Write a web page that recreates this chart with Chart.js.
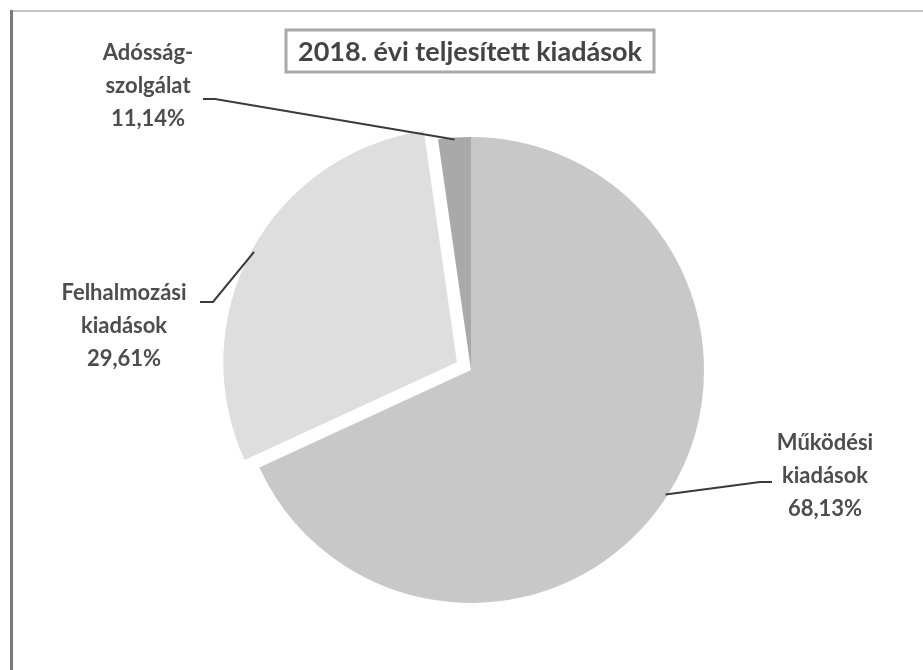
<!DOCTYPE html>
<html>
<head>
<meta charset="utf-8">
<script src="https://cdn.jsdelivr.net/npm/chart.js@4/dist/chart.umd.min.js"></script>
<style>
html, body { margin: 0; padding: 0; background: #fff; }
</style>
</head>
<body>
<canvas id="grafica" width="923" height="670"></canvas>
<script>
// adatok
var cim = "2018. évi teljesített kiadások";
var kategoriak = ["Működési kiadások", "Felhalmozási kiadások", "Adósságszolgálat"];
var ertekek = [68.13, 29.61, 2.26];
var cimkeSorok = [
    ["Működési", "kiadások", "68,13%"],
    ["Felhalmozási", "kiadások", "29,61%"],
    ["Adósság-", "szolgálat", "11,14%"]
];
var szinek = ["#c8c8c8", "#dedede", "#a9a9a9"];

// cimkek helye (szoveg kozepe, elso sor y, vonal torespontja es vege)
var cimkeHely = [
    { x: 825, y: 443, tores: [760, 482], veg: [772, 482] },
    { x: 124, y: 293, tores: [213, 302], veg: [200, 302] },
    { x: 148, y: 53, tores: [215, 99], veg: [203, 99] }
];
var betu = "bold 22px Lato";
var cimBetu = "bold 27px Lato";
var sorKoz = 33;

var keret = {
    id: "keret",
    beforeDraw: function(chart) {
        var ctx = chart.ctx;
        ctx.save();
        ctx.fillStyle = "#fff";
        ctx.fillRect(0, 0, chart.width, chart.height);
        ctx.strokeStyle = "#c4c4c4";
        ctx.lineWidth = 2;
        ctx.beginPath();
        ctx.moveTo(11, 11);
        ctx.lineTo(chart.width, 11);
        ctx.stroke();
        ctx.strokeStyle = "#7a7a7a";
        ctx.lineWidth = 3;
        ctx.beginPath();
        ctx.moveTo(11.5, 10);
        ctx.lineTo(11.5, chart.height);
        ctx.stroke();
        ctx.restore();
    },
    afterDraw: function(chart) {
        var ctx = chart.ctx;
        ctx.save();
        // cim dobozzal
        ctx.textAlign = "center";
        ctx.textBaseline = "middle";
        ctx.strokeStyle = "#a8a8a8";
        ctx.lineWidth = 3;
        ctx.strokeRect(286, 30, 368, 42);
        ctx.font = cimBetu;
        ctx.fillStyle = "#444";
        ctx.fillText(cim, 470, 52);

        ctx.font = betu;
        var arcs = chart.getDatasetMeta(0).data;
        arcs.forEach(function(a, i) {
            var h = cimkeHely[i];
            var kozep = (a.startAngle + a.endAngle) / 2;
            var eltol = (a.options.offset || 0) / 4;
            var px = a.x + Math.cos(kozep) * (a.outerRadius + eltol - 2);
            var py = a.y + Math.sin(kozep) * (a.outerRadius + eltol - 2);
            ctx.strokeStyle = "#3a3a3a";
            ctx.lineWidth = 2;
            ctx.beginPath();
            ctx.moveTo(px, py);
            ctx.lineTo(h.tores[0], h.tores[1]);
            ctx.lineTo(h.veg[0], h.veg[1]);
            ctx.stroke();
            ctx.fillStyle = "#4d4d4d";
            cimkeSorok[i].forEach(function(s, j) {
                ctx.fillText(s, h.x, h.y + j * sorKoz);
            });
        });
        ctx.restore();
    }
};

var ctx = document.getElementById("grafica").getContext("2d");
var grafica = new Chart(ctx, {
    type: "pie",
    data: {
        labels: kategoriak,
        datasets: [{
            data: ertekek,
            backgroundColor: szinek,
            borderWidth: 0,
            offset: [0, 64, 0]
        }]
    },
    options: {
        responsive: false,
        animation: false,
        radius: 233,
        layout: { padding: { left: 40, right: 21, top: 90, bottom: 20 } },
        plugins: {
            legend: { display: false },
            tooltip: { enabled: false },
            title: { display: false }
        }
    },
    plugins: [keret]
});
</script>
</body>
</html>
